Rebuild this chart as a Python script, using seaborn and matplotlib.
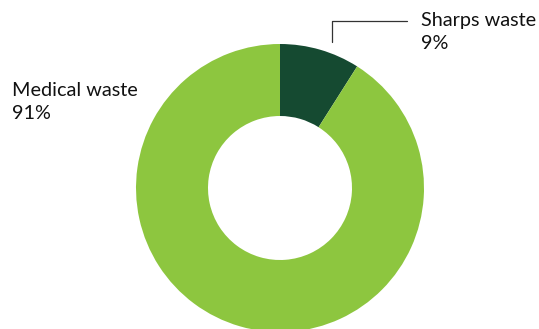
import matplotlib
matplotlib.use("Agg")
import matplotlib.pyplot as plt
import seaborn as sns

# waste breakdown (share of total)
categories = ["Sharps waste", "Medical waste"]
shares = [9, 91]
colors = ["#154a31", "#8dc63f"]

sns.set_style("white")
plt.rcParams["font.family"] = ["Lato", "DejaVu Sans"]

W, H = 539, 329
fig = plt.figure(figsize=(W / 100, H / 100), dpi=100)
ax = fig.add_axes([0, 0, 1, 1])

cx, cy, r = 280, 188, 144  # pixel geometry of the donut


def px(x, y):
    # pixel (from top-left) -> data coords
    return (x - cx) / r, (cy - y) / r


ax.pie(shares, colors=colors, startangle=90, counterclock=False,
       radius=1, wedgeprops=dict(width=0.5, linewidth=0))

ax.set_xlim(-cx / r, (W - cx) / r)
ax.set_ylim(-(H - cy) / r, cy / r)
ax.set_aspect("auto")
ax.axis("off")

# leader line for the small slice
p1, p2, p3 = px(332, 42), px(332, 21), px(407, 21)
ax.plot([p1[0], p2[0], p3[0]], [p1[1], p2[1], p3[1]], color="#333333", lw=0.9)


def label(x, y0, name, pct):
    a = px(x, y0)
    b = px(x, y0 + 23)
    ax.text(a[0], a[1], name, fontsize=14.3, color="#111111", ha="left", va="baseline")
    ax.text(b[0], b[1], f"{pct}%", fontsize=14.3, color="#111111", ha="left", va="baseline")


label(421, 26, categories[0], shares[0])
label(12, 96, categories[1], shares[1])

fig.savefig("out.png", dpi=100)
